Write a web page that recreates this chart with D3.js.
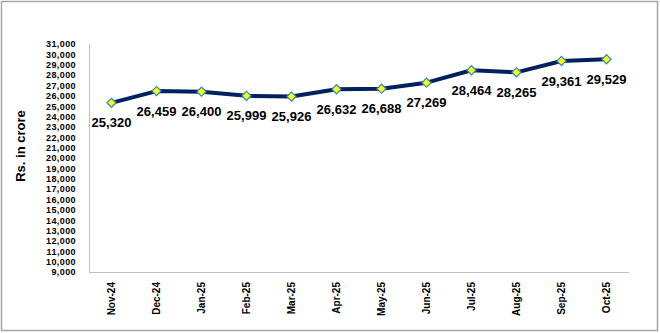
<!DOCTYPE html>
<html><head><meta charset="utf-8">
<script src="https://cdn.jsdelivr.net/npm/d3@7"></script>
<style>body{margin:0;background:#fff}svg{display:block}text{font-family:"Liberation Sans",Arial,sans-serif;font-weight:bold;fill:#000}</style>
</head><body><svg id="c" width="660" height="333"></svg>
<script>
const months = ["Nov-24","Dec-24","Jan-25","Feb-25","Mar-25","Apr-25","May-25","Jun-25","Jul-25","Aug-25","Sep-25","Oct-25"];
const values = [25320,26459,26400,25999,25926,26632,26688,27269,28464,28265,29361,29529];
const yTicks = d3.range(9000, 31001, 1000);
const yTitle = "Rs. in crore";

const svg = d3.select("#c");
svg.append("rect").attr("x",1.5).attr("y",1.5).attr("width",656).attr("height",329)
  .attr("fill","#fff").attr("stroke","#a6a6a6").attr("stroke-width",1.5);

const L=89, R=629, T=44, B=272;
const x = d3.scaleBand().domain(months).range([L,R]);
const y = d3.scaleLinear().domain([9000,31000]).range([B,T]);

svg.append("line").attr("x1",L+0.5).attr("x2",L+0.5).attr("y1",T).attr("y2",B).attr("stroke","#bfbfbf");
svg.append("line").attr("x1",L).attr("x2",R).attr("y1",B+0.5).attr("y2",B+0.5).attr("stroke","#bfbfbf");

const fmt = d3.format(",");
const yAxis = d3.axisLeft(y).tickValues(yTicks).tickFormat(fmt).tickSize(0).tickPadding(13);
const gy = svg.append("g").attr("transform",`translate(${L},0)`).call(yAxis);
gy.select(".domain").remove();
gy.selectAll("text").style("font-size","9px").style("letter-spacing","0.4px").style("font-family","'Liberation Sans',Arial,sans-serif").attr("fill","#000").attr("font-weight","bold");

const xAxis = d3.axisBottom(x).tickSize(0).tickPadding(0);
const gx = svg.append("g").attr("transform",`translate(0,${B})`).call(xAxis);
gx.select(".domain").remove();
gx.selectAll("text").style("font-size","10px").style("font-family","'Liberation Sans',Arial,sans-serif").attr("fill","#000")
  .attr("transform","rotate(-90)").attr("text-anchor","end").attr("x",-10).attr("y",0).attr("dy","0.35em");

svg.append("text").attr("transform","translate(20,146) rotate(-90)").attr("text-anchor","middle")
  .attr("dy","0.35em").style("font-size","13px").text(yTitle);

const cx = d => x(d) + x.bandwidth()/2;
const line = d3.line().x((d,i)=>cx(months[i])).y(d=>y(d));
svg.append("path").datum(values).attr("d",line).attr("fill","none").attr("stroke","#002060").attr("stroke-width",4).attr("stroke-linejoin","round");

svg.selectAll(".m").data(values).join("path").attr("class","m")
  .attr("transform",(d,i)=>`translate(${cx(months[i])},${y(d)}) rotate(45)`)
  .attr("d",d3.symbol().type(d3.symbolSquare).size(42)).attr("fill","#ffff00").attr("stroke","#2e86c8").attr("stroke-width",1.2);

svg.selectAll(".lbl").data(values).join("text").attr("class","lbl")
  .attr("x",(d,i)=>cx(months[i])).attr("y",d=>y(d)+20).attr("dy","0.35em")
  .attr("text-anchor","middle").style("font-size","13px").text(d=>fmt(d));
</script></body></html>
